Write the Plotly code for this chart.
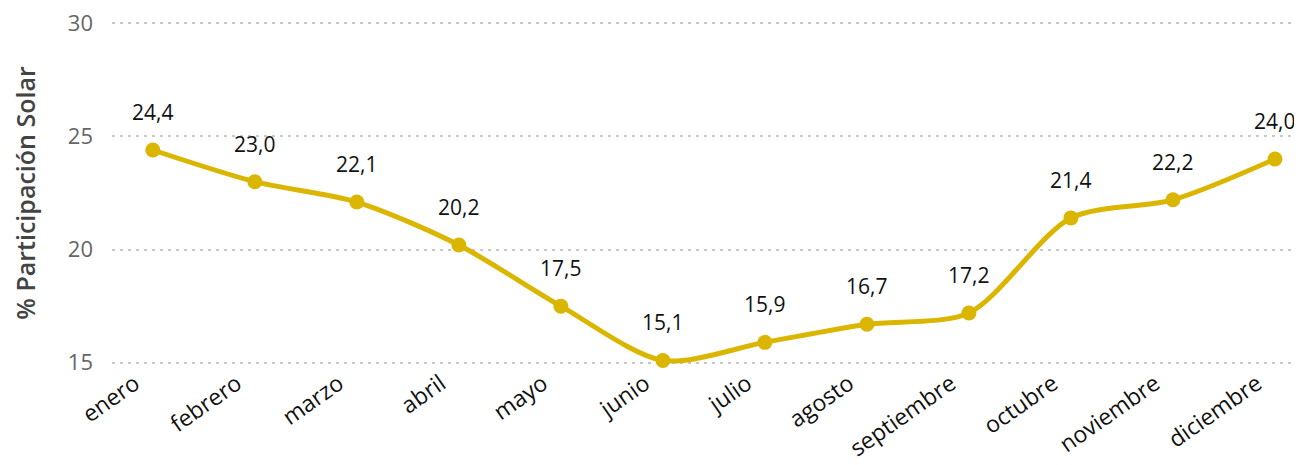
import plotly.graph_objects as go

months = ["enero", "febrero", "marzo", "abril", "mayo", "junio", "julio",
          "agosto", "septiembre", "octubre", "noviembre", "diciembre"]
solar_share = [24.4, 23.0, 22.1, 20.2, 17.5, 15.1, 15.9, 16.7, 17.2, 21.4, 22.2, 24.0]
y_ticks = [15, 20, 25, 30]

COLOR = "#DAB600"
FONT = "Open Sans, Noto Sans, sans-serif"

fig = go.Figure()
fig.add_trace(go.Scatter(
    x=list(range(len(months))), y=solar_share,
    mode="lines+markers",
    line=dict(color=COLOR, width=5, shape="spline", smoothing=0.8),
    marker=dict(color=COLOR, size=15),
    cliponaxis=False,
    hoverinfo="skip",
))

for i, v in enumerate(solar_share):
    fig.add_annotation(
        x=i, y=v, text=f"{v:.1f}".replace(".", ","),
        showarrow=False, yshift=38,
        font=dict(family=FONT, size=21, color="#111111"),
    )

# page body has an 8px default margin, so the figure is sized/offset for it
fig.update_layout(
    width=1294, height=457,
    margin=dict(l=104, r=0, t=13, b=100),
    paper_bgcolor="white", plot_bgcolor="white",
    showlegend=False,
    font=dict(family=FONT),
)
fig.update_xaxes(
    tickmode="array", tickvals=list(range(len(months))), ticktext=months,
    range=[-0.4, 11.265], tickangle=-35,
    tickfont=dict(family=FONT, size=23, color="#111111"),
    showgrid=False, zeroline=False, showline=False, ticks="",
    ticklabelshift=-18, ticklabelstandoff=0,
    ticklabeloverflow="allow",
    automargin=False,
)
fig.update_yaxes(
    range=[14.9, 30.1], tickvals=y_ticks,
    tickfont=dict(family=FONT, size=22, color="#666666"),
    showgrid=True, gridcolor="#C8C8C8", griddash="3px,5px", gridwidth=1.5,
    zeroline=False, showline=False, ticks="",
    ticklabelstandoff=18, automargin=False,
    ticklabeloverflow="allow",
    title=dict(text="% Participación Solar",
               font=dict(family=FONT, size=25, color="#444444", weight=600),
               standoff=32),
)

fig.write_html("out.html")
